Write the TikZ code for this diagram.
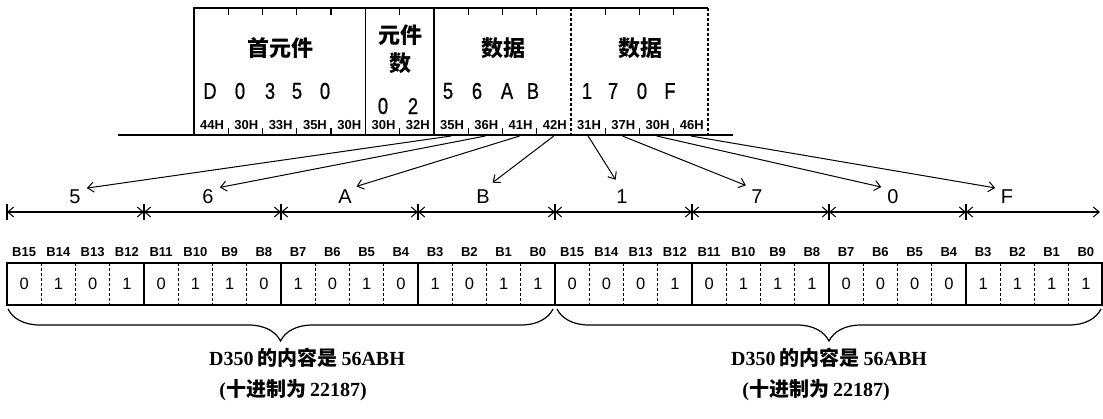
\documentclass[tikz,border=0pt]{standalone}
\usepackage{fontspec}
\setmainfont{Liberation Sans}
\newfontfamily\narrow[FakeStretch=0.8,FakeBold=0.6]{Liberation Sans}
\newfontfamily\cjk{Noto Sans CJK SC}
\newfontfamily\songti{Liberation Serif}
\usetikzlibrary{arrows.meta,calc,decorations.pathreplacing}

\tikzset{
  frameline/.style={line width=1.2pt},
  dashline/.style={line width=1.2pt, dash pattern=on 3pt off 2pt},
  barb/.style={-{Straight Barb[length=6pt,width=10pt,line width=1pt]}, line width=1pt},
  twobarb/.style={{Straight Barb[length=6pt,width=10pt,line width=1pt]}-{Straight Barb[length=6pt,width=10pt,line width=1pt]}, line width=1.2pt},
  title/.style={font=\cjk\bfseries\fontsize{22}{22}\selectfont, inner sep=0pt},
  hexdigit/.style={font=\narrow\fontsize{23}{23}\selectfont, inner sep=0pt},
  hexlbl/.style={font=\bfseries\fontsize{13}{13}\selectfont, inner sep=0pt},
  bitlbl/.style={font=\bfseries\fontsize{13}{13}\selectfont, inner sep=0pt},
  bitval/.style={font=\fontsize{16.5}{16.5}\selectfont, inner sep=0pt},
  nibble/.style={font=\fontsize{20}{20}\selectfont, inner sep=0pt},
  note/.style={font=\bfseries\fontsize{20}{20}\selectfont, inner sep=0pt}
}

\begin{document}
\begin{tikzpicture}[x=1pt,y=-1pt]
  \useasboundingbox (0,0) rectangle (1103,418);

  \draw[line width=2pt] (118,135) -- (733,135);
  \draw[frameline] (194,135) -- (194,8) -- (708,8);
  \draw[frameline] (365.3,8) -- (365.3,135);
  \draw[frameline] (433.9,8) -- (433.9,135);
  \draw[dashline] (571,8) -- (571,135);
  \draw[dashline] (708,8) -- (708,135);
  \foreach \k in {1,2,3,4,6,8,9,10,12,13,14}
    \draw[frameline] ({194+34.27*\k},8) -- ++(0,7) ({194+34.27*\k},135) -- ++(0,-7);

  \node[title] (first) at (280,48) {首元件};
  \node[title] (cnt1) at (400,35) {元件};
  \node[title] (cnt2) at (400,63) {数};
  \node[title] (data1) at (503,48) {数据};
  \node[title] (data2) at (640,48) {数据};

  \foreach \x/\t [count=\i] in {210/D,240/0,270/3,297/5,325/0,448/5,477/6,507/A,533/B,587/1,613/7,642/0,670/F}
    \node[hexdigit] (a\i) at (\x,91) {\t};
  \node[hexdigit] (cn1) at (383,106) {0};
  \node[hexdigit] (cn2) at (413,106) {2};

  \foreach \h [count=\k from 0] in {44H,30H,33H,35H,30H,30H,32H,35H,36H,41H,42H,31H,37H,30H,46H} {
    \node[hexlbl] (h\k) at ({195+34.27*(\k+0.5)},125) {\h};
    \coordinate (s\k) at ({194+34.27*(\k+0.5)},136);
  }

  \foreach \x [count=\i from 0] in {7,144,281,418,555,692,829,966,1100}
    \coordinate (m\i) at (\x,212);
  \foreach \i in {0,...,7} {
    \pgfmathtruncatemacro\j{\i+1}
    \draw[twobarb] (m\i) -- (m\j);
    \draw[line width=1.2pt] ($(m\i)+(0,-8)$) -- ($(m\i)+(0,8)$);
  }

  \foreach \x/\t [count=\i] in {75/5,208/6,345/A,483/B,622/1,757/7,893/0,1007/F}
    \node[nibble] (n\i) at (\x,197) {\t};
  \foreach \k [count=\i] in {7,...,14}
    \draw[barb, shorten >=12pt] (s\k) -- (n\i.north);

  \draw[frameline] (7,263) rectangle (1102,305);
  \foreach \k in {1,...,31} {
    \pgfmathtruncatemacro\r{mod(\k,4)}
    \ifnum\r=0
      \draw[frameline] ({7+34.25*\k},263) -- ({7+34.25*\k},305);
    \else
      \draw[dashline] ({7+34.25*\k},263) -- ({7+34.25*\k},305);
    \fi
  }
  \foreach \k in {0,...,31} {
    \pgfmathtruncatemacro\n{15-mod(\k,16)}
    \node[bitlbl] (b\k) at ({7+34.25*(\k+0.5)},252) {B\n};
  }
  \foreach \b [count=\k from 0] in {0,1,0,1,0,1,1,0,1,0,1,0,1,0,1,1,0,0,0,1,0,1,1,1,0,0,0,0,1,1,1,1}
    \node[bitval] (v\k) at ({7+34.25*(\k+0.5)},284) {\b};

  \draw[line width=1.2pt, decorate, decoration={brace, mirror, amplitude=32pt}] (8,309) -- (553,309);
  \draw[line width=1.2pt, decorate, decoration={brace, mirror, amplitude=32pt}] (557,309) -- (1101,309);

  \node[note] (lo1) at (307,358) {\songti D350\hspace{4pt}{\cjk 的内容是}\hspace{4pt}56ABH};
  \node[note] (lo2) at (293,390) {\songti ({\cjk 十进制为}\hspace{4pt}22187)};
  \node[note] (hi1) at (829,358) {\songti D350\hspace{4pt}{\cjk 的内容是}\hspace{4pt}56ABH};
  \node[note] (hi2) at (816,390) {\songti ({\cjk 十进制为}\hspace{4pt}22187)};
\end{tikzpicture}
\end{document}
